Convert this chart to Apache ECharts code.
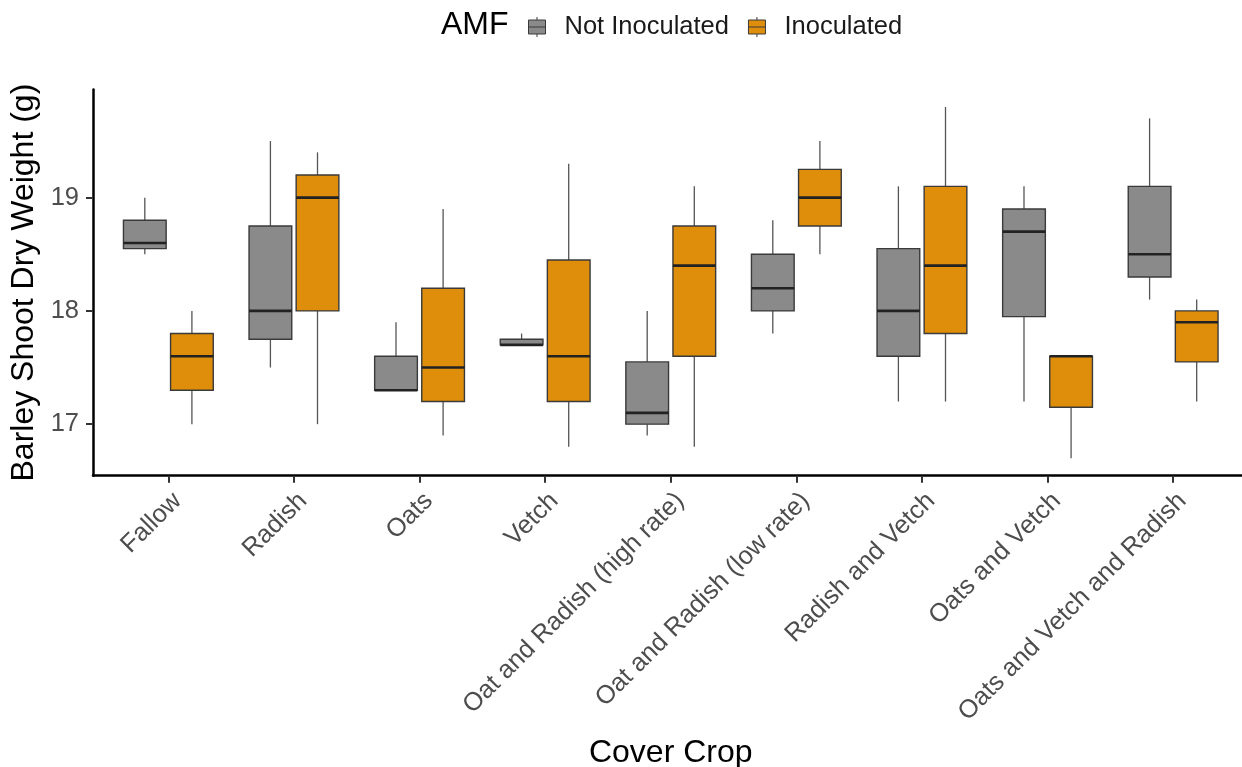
<!DOCTYPE html>
<html>
<head>
<meta charset="utf-8">
<script src="https://cdn.jsdelivr.net/npm/echarts@6/dist/echarts.min.js"></script>
<style>
html,body{margin:0;padding:0;background:#fff;}
#chart{width:1242px;height:767px;}
</style>
</head>
<body>
<div id="chart"></div>
<script>
// Categories (x axis)
const categories = ['Fallow','Radish','Oats','Vetch','Oat and Radish (high rate)','Oat and Radish (low rate)','Radish and Vetch','Oats and Vetch','Oats and Vetch and Radish'];
// Box statistics: [lower whisker, Q1, median, Q3, upper whisker]
const notInoculated = [
  [18.5, 18.55, 18.6, 18.8, 19.0],
  [17.5, 17.75, 18.0, 18.75, 19.5],
  [17.3, 17.3, 17.3, 17.6, 17.9],
  [17.7, 17.7, 17.7, 17.75, 17.8],
  [16.9, 17.0, 17.1, 17.55, 18.0],
  [17.8, 18.0, 18.2, 18.5, 18.8],
  [17.2, 17.6, 18.0, 18.55, 19.1],
  [17.2, 17.95, 18.7, 18.9, 19.1],
  [18.1, 18.3, 18.5, 19.1, 19.7]
];
const inoculated = [
  [17.0, 17.3, 17.6, 17.8, 18.0],
  [17.0, 18.0, 19.0, 19.2, 19.4],
  [16.9, 17.2, 17.5, 18.2, 18.9],
  [16.8, 17.2, 17.6, 18.45, 19.3],
  [16.8, 17.6, 18.4, 18.75, 19.1],
  [18.5, 18.75, 19.0, 19.25, 19.5],
  [17.2, 17.8, 18.4, 19.1, 19.8],
  [16.7, 17.15, 17.6, 17.6, 17.6],
  [17.2, 17.55, 17.9, 18.0, 18.1]
];
const yTicks = [17, 18, 19];
const xTicks = [1, 2, 3, 4, 5, 6, 7, 8, 9];
const groupNames = ['Not Inoculated', 'Inoculated'];

const FONT = 'Liberation Sans, Arial, sans-serif';
const colors = ['#8a8a8a', '#df8e0b'];
const offsets = [-0.1875, 0.1875];
const boxWidth = 0.34;

function makeRender(offset, fill) {
  return function (params, api) {
    const x = api.value(0) + offset;
    const lo = api.coord([x, api.value(1)]);
    const q1 = api.coord([x, api.value(2)]);
    const md = api.coord([x, api.value(3)]);
    const q3 = api.coord([x, api.value(4)]);
    const hi = api.coord([x, api.value(5)]);
    const w = api.size([boxWidth, 0])[0];
    const cx = lo[0];
    return {
      type: 'group',
      children: [
        {type: 'line', shape: {x1: cx, y1: hi[1], x2: cx, y2: q3[1]}, style: {stroke: '#555', lineWidth: 1.3}},
        {type: 'line', shape: {x1: cx, y1: q1[1], x2: cx, y2: lo[1]}, style: {stroke: '#555', lineWidth: 1.3}},
        {type: 'rect', shape: {x: cx - w / 2, y: q3[1], width: w, height: q1[1] - q3[1]}, style: {fill: fill, stroke: '#3a3a3a', lineWidth: 1.4}},
        {type: 'line', shape: {x1: cx - w / 2, y1: md[1], x2: cx + w / 2, y2: md[1]}, style: {stroke: '#222', lineWidth: 2.6}}
      ]
    };
  };
}

function toData(arr) {
  return arr.map((d, i) => [i + 1].concat(d));
}

const iconPath = 'path://M8.5,0L8.5,3M0,3L17,3L17,17L0,17ZM0,10L17,10M8.5,17L8.5,20';

const chart = echarts.init(document.getElementById('chart'), null, {renderer: 'canvas'});
chart.setOption({
  animation: false,
  backgroundColor: '#fff',
  title: {
    text: 'AMF', left: 441, top: 9, padding: 0,
    textStyle: {fontFamily: FONT, fontSize: 32, fontWeight: 'normal', color: '#000'}
  },
  legend: {
    left: 528, top: 14, padding: 0,
    itemWidth: 17, itemHeight: 20, itemGap: 19,
    textStyle: {fontFamily: FONT, fontSize: 25.5, color: '#1a1a1a', padding: [0, 0, 0, 14]},
    data: groupNames.map((n, i) => ({
      name: n, icon: iconPath,
      itemStyle: {color: colors[i], borderColor: '#3a3a3a', borderWidth: 1}
    }))
  },
  grid: {left: 93, top: 89.5, width: 1155.5, bottom: 291.3, containLabel: false, outerBoundsMode: 'none'},
  xAxis: {
    type: 'value', min: 0.4, max: 9.6,
    name: 'Cover Crop', nameLocation: 'middle', nameGap: 261,
    nameTextStyle: {fontFamily: FONT, fontSize: 32, color: '#000'},
    axisLine: {show: true, lineStyle: {color: '#000', width: 2.5}},
    axisTick: {show: true, length: 7, customValues: xTicks, lineStyle: {color: '#333', width: 2}},
    axisLabel: {
      customValues: xTicks, rotate: 45, margin: 12, align: 'right', verticalAlign: 'top',
      fontFamily: FONT, fontSize: 25.5, color: '#4d4d4d',
      formatter: v => categories[Math.round(v) - 1] || ''
    },
    splitLine: {show: false}
  },
  yAxis: {
    type: 'value', min: 16.545, max: 19.955,
    name: 'Barley Shoot Dry Weight (g)', nameLocation: 'middle', nameGap: 52, nameRotate: 90,
    nameTextStyle: {fontFamily: FONT, fontSize: 32, color: '#000'},
    axisLine: {show: true, lineStyle: {color: '#000', width: 2.5}},
    axisTick: {show: true, length: 7, customValues: yTicks, lineStyle: {color: '#333', width: 2}},
    axisLabel: {customValues: yTicks, margin: 14, fontFamily: FONT, fontSize: 25.5, color: '#4d4d4d'},
    splitLine: {show: false}
  },
  series: [
    {
      name: groupNames[0], type: 'custom', itemStyle: {color: colors[0]},
      renderItem: makeRender(offsets[0], colors[0]),
      encode: {x: 0, y: [1, 2, 3, 4, 5]},
      data: toData(notInoculated)
    },
    {
      name: groupNames[1], type: 'custom', itemStyle: {color: colors[1]},
      renderItem: makeRender(offsets[1], colors[1]),
      encode: {x: 0, y: [1, 2, 3, 4, 5]},
      data: toData(inoculated)
    }
  ]
});
</script>
</body>
</html>
